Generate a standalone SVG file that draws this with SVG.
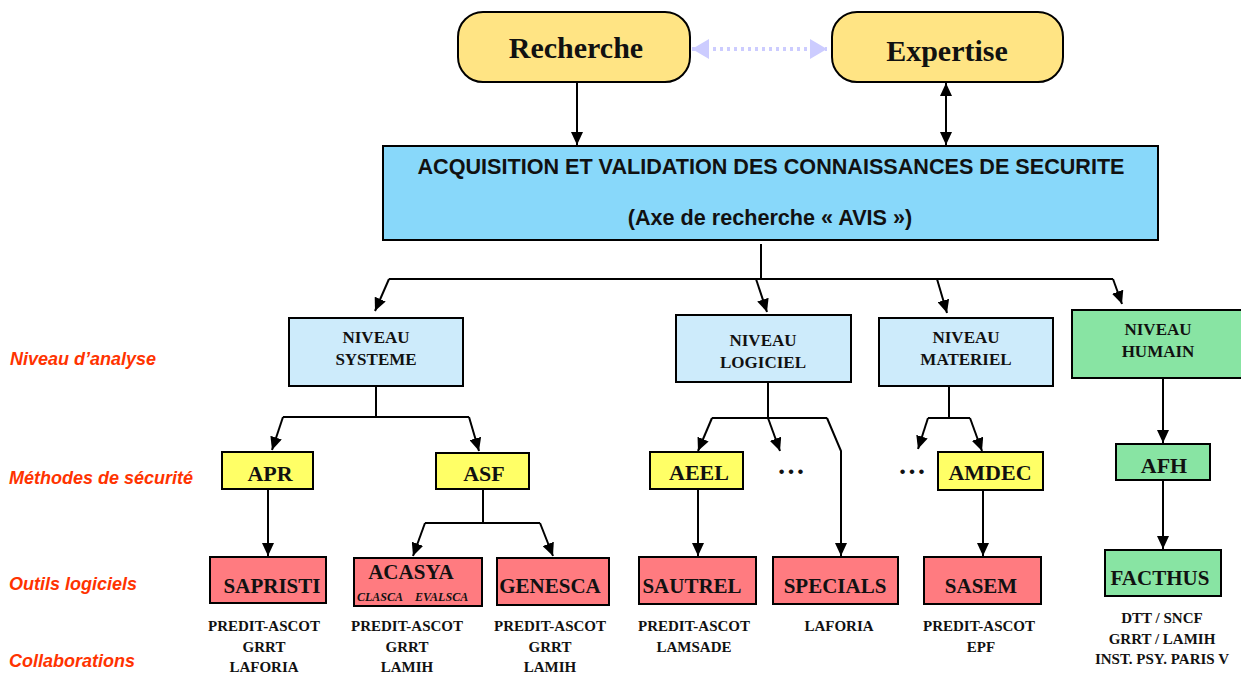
<svg xmlns="http://www.w3.org/2000/svg" width="1241" height="673" viewBox="0 0 1241 673">
<style>
.box{stroke:#000;stroke-width:2}
.top{fill:#ffe484}
.acq{fill:#88d8fa}
.niv{fill:#cdebfb}
.hum{fill:#88e4a3}
.met{fill:#ffff66}
.tool{fill:#ff7b80}
.tb{font-family:"Liberation Serif","Times New Roman",serif;font-weight:bold;fill:#111;text-anchor:middle}
.st{text-anchor:start;font-style:italic;font-size:12px}
.ta{font-family:"Liberation Sans",Arial,sans-serif;font-weight:bold;fill:#111;text-anchor:middle;font-size:21.6px}
.lab{font-family:"Liberation Sans",Arial,sans-serif;font-weight:bold;font-style:italic;fill:#ff3300;font-size:18px}
.col{font-size:15px}
.con{fill:none;stroke:#000;stroke-width:2}
</style>
<defs>
<marker id="ah" markerUnits="userSpaceOnUse" markerWidth="14" markerHeight="12" refX="13" refY="6" orient="auto-start-reverse" viewBox="0 0 14 12">
<path d="M0,0 L13,6 L0,12 z" fill="#000"/>
</marker>
<marker id="lav" markerUnits="userSpaceOnUse" markerWidth="18" markerHeight="20" refX="17" refY="10" orient="auto-start-reverse" viewBox="0 0 18 20">
<path d="M0,0 L17,10 L0,20 z" fill="#ccccff"/>
</marker>
</defs>

<g id="labels">
<text class="lab" x="10" y="365">Niveau d’analyse</text>
<text class="lab" x="9" y="484">Méthodes de sécurité</text>
<text class="lab" x="9" y="590">Outils logiciels</text>
<text class="lab" x="9" y="667">Collaborations</text>
</g>

<g id="connectors">
<path d="M692,49 H827" stroke="#ccccff" stroke-width="4" stroke-dasharray="3 4" fill="none" marker-start="url(#lav)" marker-end="url(#lav)"/>
<path class="con" d="M577,82 V145" marker-end="url(#ah)"/>
<path class="con" d="M946,83 V145" marker-start="url(#ah)" marker-end="url(#ah)"/>
<path class="con" d="M761,244 V279"/>
<path class="con" d="M389,279 H1113"/>
<path class="con" d="M389,279 L375,311" marker-end="url(#ah)"/>
<path class="con" d="M756,279 L767,312" marker-end="url(#ah)"/>
<path class="con" d="M937,279 L947,313" marker-end="url(#ah)"/>
<path class="con" d="M1113,279 L1122,304" marker-end="url(#ah)"/>
<path class="con" d="M376,387 V417 M283,417 H469"/>
<path class="con" d="M283,417 L272,450" marker-end="url(#ah)"/>
<path class="con" d="M469,417 L479,451" marker-end="url(#ah)"/>
<path class="con" d="M268,489 V556" marker-end="url(#ah)"/>
<path class="con" d="M483,489 V523 M425,523 H540"/>
<path class="con" d="M425,523 L413,556" marker-end="url(#ah)"/>
<path class="con" d="M540,523 L553,556" marker-end="url(#ah)"/>
<path class="con" d="M768,383 V418 M712,418 H827"/>
<path class="con" d="M712,418 L698,451" marker-end="url(#ah)"/>
<path class="con" d="M768,418 L780,451" marker-end="url(#ah)"/>
<path class="con" d="M827,418 L841,451 V556" marker-end="url(#ah)"/>
<path class="con" d="M698,489 V556" marker-end="url(#ah)"/>
<path class="con" d="M949,387 V418 M928,418 H970"/>
<path class="con" d="M928,418 L918,449" marker-end="url(#ah)"/>
<path class="con" d="M970,418 L982,451" marker-end="url(#ah)"/>
<path class="con" d="M983,490 V556" marker-end="url(#ah)"/>
<path class="con" d="M1163,379 V443" marker-end="url(#ah)"/>
<path class="con" d="M1163,480 V549" marker-end="url(#ah)"/>
</g>

<g id="recherche">
<rect class="box top" x="458" y="12" width="232" height="70" rx="25"/>
<text class="tb" x="576" y="58" font-size="30">Recherche</text>
</g>
<g id="expertise">
<rect class="box top" x="832" y="12" width="231" height="70" rx="25"/>
<text class="tb" x="947" y="61" font-size="30">Expertise</text>
</g>
<g id="acquisition">
<rect class="box acq" x="383" y="146" width="775" height="94"/>
<text class="ta" x="771" y="174">ACQUISITION ET VALIDATION DES CONNAISSANCES DE SECURITE</text>
<text class="ta" x="770" y="225">(Axe de recherche « AVIS »)</text>
</g>

<g id="niveau-systeme">
<rect class="box niv" x="289" y="318" width="174" height="68"/>
<text class="tb" x="376" y="343" font-size="17">NIVEAU</text>
<text class="tb" x="376" y="365" font-size="17">SYSTEME</text>
</g>
<g id="niveau-logiciel">
<rect class="box niv" x="676" y="315" width="175" height="67"/>
<text class="tb" x="763" y="346" font-size="17">NIVEAU</text>
<text class="tb" x="763" y="368" font-size="17">LOGICIEL</text>
</g>
<g id="niveau-materiel">
<rect class="box niv" x="879" y="318" width="174" height="68"/>
<text class="tb" x="966" y="343" font-size="17">NIVEAU</text>
<text class="tb" x="966" y="365" font-size="17">MATERIEL</text>
</g>
<g id="niveau-humain">
<rect class="box hum" x="1072" y="310" width="174" height="68"/>
<text class="tb" x="1158" y="335" font-size="17">NIVEAU</text>
<text class="tb" x="1158" y="357" font-size="17">HUMAIN</text>
</g>

<g id="apr">
<rect class="box met" x="222" y="452" width="91" height="37"/>
<text class="tb" x="270" y="481" font-size="22">APR</text>
</g>
<g id="asf">
<rect class="box met" x="436" y="453" width="93" height="36"/>
<text class="tb" x="484" y="481" font-size="22">ASF</text>
</g>
<g id="aeel">
<rect class="box met" x="650" y="452" width="93" height="37"/>
<text class="tb" x="699" y="480" font-size="22">AEEL</text>
</g>
<g id="dots1"><text class="tb" x="791" y="474" font-size="28">…</text></g>
<g id="dots2"><text class="tb" x="912" y="474" font-size="28">…</text></g>
<g id="amdec">
<rect class="box met" x="938" y="452" width="105" height="38"/>
<text class="tb" x="990" y="480" font-size="22">AMDEC</text>
</g>
<g id="afh">
<rect class="box hum" x="1116" y="444" width="94" height="36"/>
<text class="tb" x="1164" y="473" font-size="22">AFH</text>
</g>

<g id="sapristi">
<rect class="box tool" x="210" y="557" width="116" height="46"/>
<text class="tb" x="272" y="593" font-size="21">SAPRISTI</text>
<text class="tb col" x="264" y="631">PREDIT-ASCOT</text>
<text class="tb col" x="264" y="652">GRRT</text>
<text class="tb col" x="264" y="672">LAFORIA</text>
</g>
<g id="acasya">
<rect class="box tool" x="354" y="558" width="128" height="48"/>
<text class="tb" x="411" y="579" font-size="21">ACASYA</text>
<text class="tb st" x="357" y="601">CLASCA</text>
<text class="tb st" x="415" y="601">EVALSCA</text>
<text class="tb col" x="407" y="631">PREDIT-ASCOT</text>
<text class="tb col" x="407" y="652">GRRT</text>
<text class="tb col" x="407" y="672">LAMIH</text>
</g>
<g id="genesca">
<rect class="box tool" x="497" y="558" width="112" height="47"/>
<text class="tb" x="550" y="593" font-size="21">GENESCA</text>
<text class="tb col" x="550" y="631">PREDIT-ASCOT</text>
<text class="tb col" x="550" y="652">GRRT</text>
<text class="tb col" x="550" y="672">LAMIH</text>
</g>
<g id="sautrel">
<rect class="box tool" x="639" y="557" width="117" height="47"/>
<text class="tb" x="692" y="593" font-size="21">SAUTREL</text>
<text class="tb col" x="694" y="631">PREDIT-ASCOT</text>
<text class="tb col" x="694" y="652">LAMSADE</text>
</g>
<g id="specials">
<rect class="box tool" x="773" y="557" width="125" height="47"/>
<text class="tb" x="835" y="593" font-size="21">SPECIALS</text>
<text class="tb col" x="839" y="631">LAFORIA</text>
</g>
<g id="sasem">
<rect class="box tool" x="924" y="557" width="117" height="47"/>
<text class="tb" x="981" y="593" font-size="21">SASEM</text>
<text class="tb col" x="979" y="631">PREDIT-ASCOT</text>
<text class="tb col" x="981" y="652">EPF</text>
</g>
<g id="facthus">
<rect class="box hum" x="1105" y="550" width="116" height="46"/>
<text class="tb" x="1160" y="585" font-size="21">FACTHUS</text>
<text class="tb col" x="1162" y="623">DTT / SNCF</text>
<text class="tb col" x="1162" y="644">GRRT / LAMIH</text>
<text class="tb col" x="1162" y="664">INST. PSY. PARIS V</text>
</g>
</svg>
